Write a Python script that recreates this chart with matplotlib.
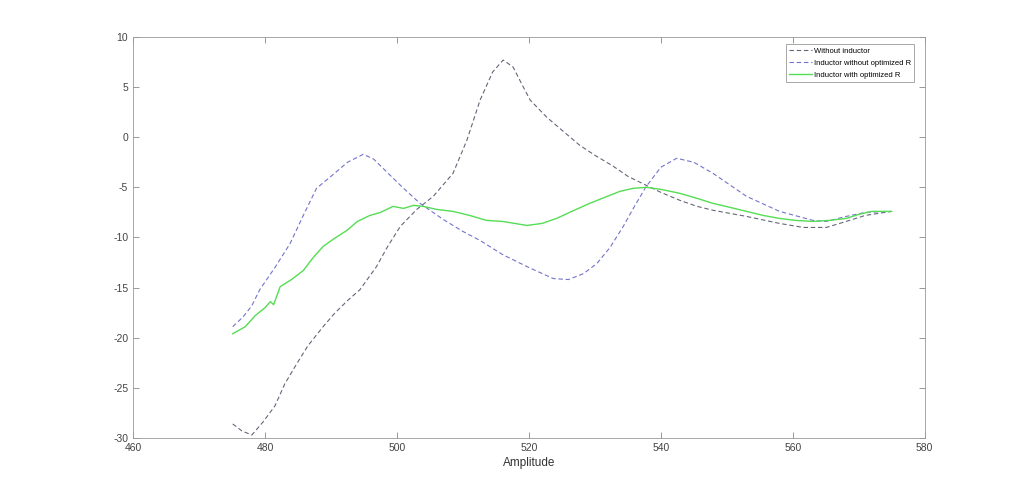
import matplotlib
matplotlib.use("Agg")
from matplotlib import pyplot as plt

## Données
x_sans = [475.1, 476.5, 478.0, 479.7, 481.5, 483.0, 484.8, 486.5, 488.8, 490.5, 492.5, 494.4, 496.9,
          498.5, 500.5, 503.0, 505.5, 508.5, 510.6, 512.6, 514.5, 516.1, 517.6, 519.0, 520.2, 522.7,
          525.0, 527.7, 530.0, 532.8, 535.0, 537.8, 540.0, 542.9, 545.5, 548.0, 553.0, 558.0, 561.6,
          565.1, 568.1, 571.0, 575.0]
y_sans = [-28.6, -29.3, -29.7, -28.4, -26.8, -24.6, -22.6, -20.8, -18.9, -17.6, -16.3, -15.2, -12.9,
          -11.0, -8.9, -7.2, -5.9, -3.6, -0.3, 3.7, 6.5, 7.7, 7.0, 5.2, 3.7, 2.0, 0.7, -0.8, -1.8,
          -2.9, -3.9, -4.8, -5.5, -6.3, -6.9, -7.3, -7.9, -8.6, -9.0, -9.0, -8.4, -7.8, -7.4]

x_induc = [475.1, 476.7, 478.0, 479.2, 481.5, 483.8, 485.8, 487.8, 490.0, 492.5, 494.9, 496.5,
           498.5, 501.0, 503.5, 507.0, 510.0, 512.6, 516.0, 520.0, 523.7, 526.0, 528.3, 530.3,
           532.3, 534.3, 536.0, 537.8, 540.0, 542.4, 545.0, 547.9, 553.0, 558.0, 563.1, 565.1,
           568.1, 571.0, 574.9]
y_induc = [-18.9, -17.9, -16.8, -15.2, -13.0, -10.6, -7.8, -5.1, -3.9, -2.5, -1.7, -2.2, -3.5,
           -5.1, -6.6, -8.2, -9.4, -10.3, -11.7, -13.0, -14.1, -14.2, -13.6, -12.6, -11.0, -8.9,
           -6.9, -4.9, -3.0, -2.1, -2.5, -3.6, -5.9, -7.4, -8.3, -8.4, -7.9, -7.5, -7.4]

x_optim = [475.1, 477.0, 478.5, 480.0, 480.8, 481.3, 482.3, 484.0, 485.8, 487.3, 488.8, 490.5,
           492.4, 494.0, 495.9, 497.5, 499.4, 501.0, 502.5, 504.0, 506.0, 508.5, 511.0, 513.6,
           516.0, 519.7, 522.0, 524.2, 526.5, 529.2, 531.5, 533.8, 535.8, 537.8, 540.0, 542.9,
           545.5, 547.9, 550.5, 553.0, 555.5, 558.0, 560.5, 563.0, 565.5, 568.1, 570.0, 572.0,
           575.0]
y_optim = [-19.6, -18.9, -17.8, -17.0, -16.4, -16.7, -14.9, -14.2, -13.3, -12.0, -10.9, -10.1,
           -9.3, -8.4, -7.8, -7.5, -6.9, -7.1, -6.8, -6.9, -7.2, -7.4, -7.8, -8.3, -8.4, -8.8,
           -8.6, -8.1, -7.4, -6.6, -6.0, -5.4, -5.1, -5.0, -5.2, -5.6, -6.1, -6.6, -7.0, -7.4,
           -7.8, -8.1, -8.3, -8.4, -8.3, -8.1, -7.7, -7.4, -7.4]

legendes = ["Without inductor", "Inductor without optimized R", "Inductor with optimized R"]

## Style
plt.rcParams["font.family"] = "sans-serif"
plt.rcParams["font.sans-serif"] = "Liberation Sans"
plt.rcParams["font.size"] = 7.5
plt.rcParams["axes.unicode_minus"] = False

f = plt.figure(figsize=(10.24, 4.94), dpi=100)
ax = f.add_axes([0.130, 0.1134, 0.773, 0.8118])

tirets = (0, (4, 2.5))
ax.plot(x_sans, y_sans, color="#66667a", linestyle=tirets, linewidth=0.8, label=legendes[0])
ax.plot(x_induc, y_induc, color="#7373cc", linestyle=tirets, linewidth=0.8, label=legendes[1])
ax.plot(x_optim, y_optim, color="#55dd55", linewidth=1.0, label=legendes[2])

ax.set_xlim(460, 580)
ax.set_ylim(-30, 10)
ax.set_xticks(range(460, 581, 20))
ax.set_yticks(range(-30, 11, 5))
ax.tick_params(direction="in", length=4, width=0.6, colors="#888888", labelcolor="#444444", top=True, right=True, labeltop=False, labelright=False)
for cote in ax.spines.values():
	cote.set_color("#999999")
	cote.set_linewidth(0.6)
ax.set_xlabel("Amplitude", color="#333333", fontsize=8.5, labelpad=3)

leg = ax.legend(loc="upper right", fontsize=5.5, handlelength=3.0, handletextpad=0.2, fancybox=False, framealpha=1, borderpad=0.45, borderaxespad=0, labelspacing=0.6, bbox_to_anchor=(0.987, 0.9825))
leg.get_frame().set_edgecolor("#999999")
leg.get_frame().set_linewidth(0.6)

plt.savefig("out.png", dpi=100)
plt.close(f)
